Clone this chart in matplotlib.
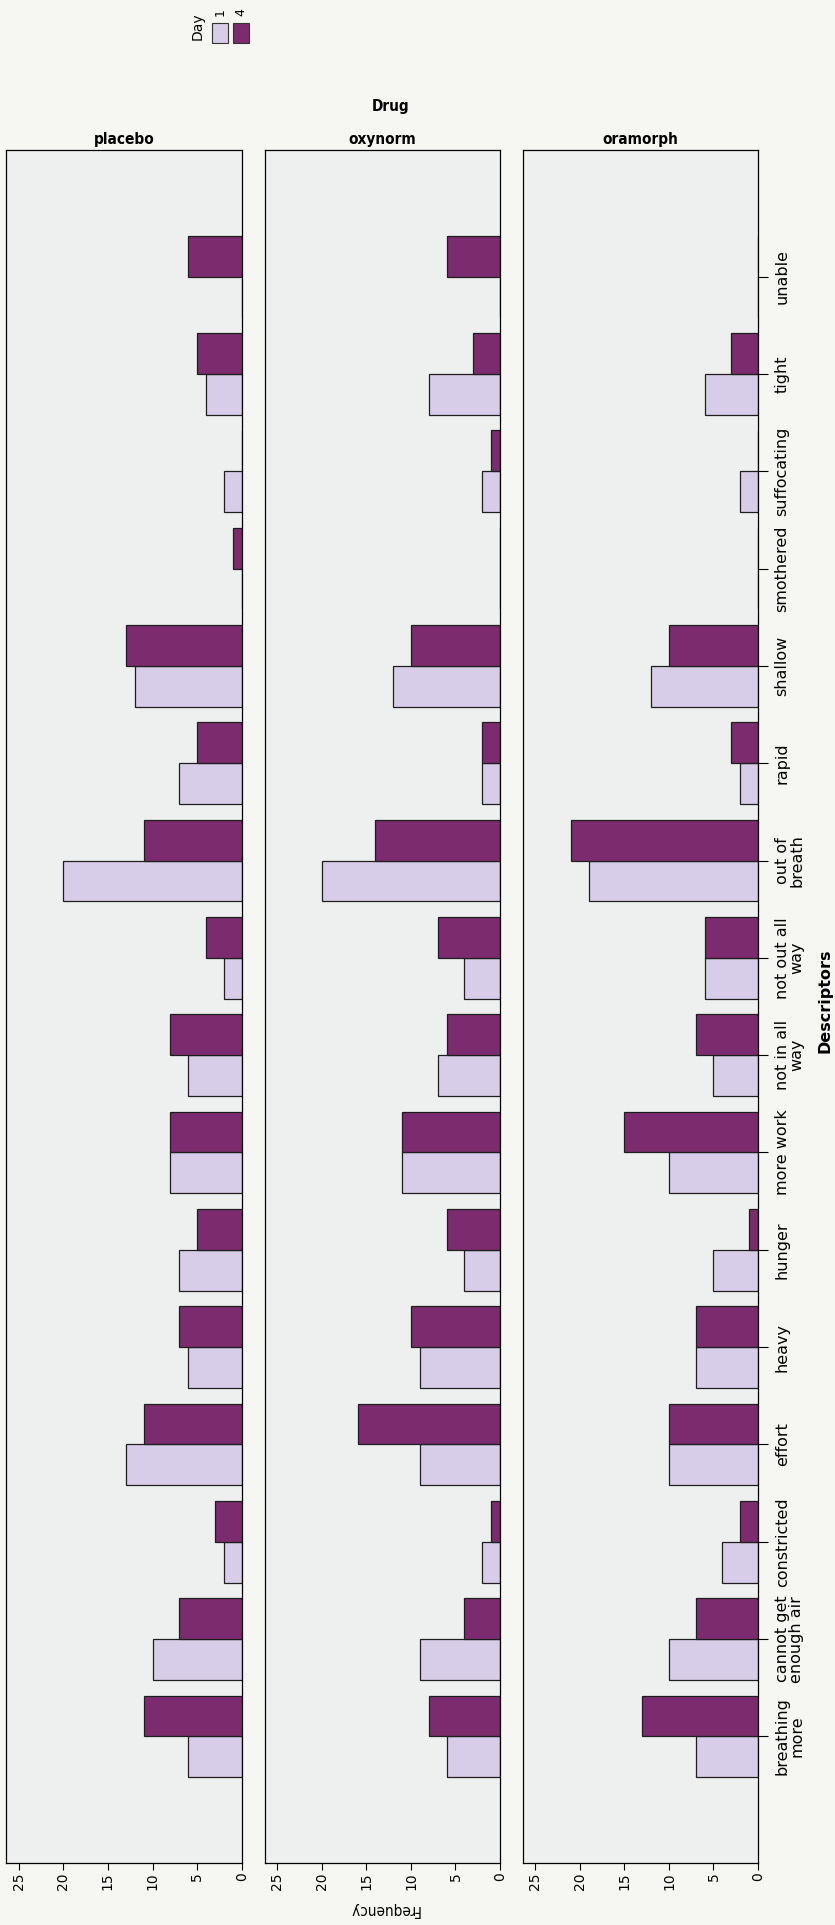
import matplotlib
matplotlib.use('Agg')
import matplotlib.pyplot as plt
import numpy as np
from matplotlib.patches import Rectangle

DESCRIPTORS = ["breathing\nmore", "cannot get\nenough air", "constricted", "effort",
               "heavy", "hunger", "more work", "not in all\nway", "not out all\nway",
               "out of\nbreath", "rapid", "shallow", "smothered", "suffocating",
               "tight", "unable"]
DRUGS = ["placebo", "oxynorm", "oramorph"]
DAYS = ["1", "4"]

placebo_day1 = [6, 10, 2, 13, 6, 7, 8, 6, 2, 20, 7, 12, 0, 2, 4, 0]
placebo_day4 = [11, 7, 3, 11, 7, 5, 8, 8, 4, 11, 5, 13, 1, 0, 5, 6]
oxynorm_day1 = [6, 9, 2, 9, 9, 4, 11, 7, 4, 20, 2, 12, 0, 2, 8, 0]
oxynorm_day4 = [8, 4, 1, 16, 10, 6, 11, 6, 7, 14, 2, 10, 0, 1, 3, 6]
oramorph_day1 = [7, 10, 4, 10, 7, 5, 10, 5, 6, 19, 2, 12, 0, 2, 6, 0]
oramorph_day4 = [13, 7, 2, 10, 7, 1, 15, 7, 6, 21, 3, 10, 0, 0, 3, 0]

FREQ_TICKS = [0, 5, 10, 15, 20, 25]

# ---- style ----
W, H = 835, 1925
PAGE = '#f6f6f3'
PANEL = '#eef0ef'
LIGHT = '#d8cde8'
DARK = '#7b2b6e'
BAR_H = 0.42

plt.rcParams['font.family'] = 'DejaVu Sans'
plt.rcParams['axes.linewidth'] = 0.9

fig = plt.figure(figsize=(W / 100, H / 100), dpi=100, facecolor=PAGE)

def px_axes(x0, x1, y_top, y_bot):
    return fig.add_axes([x0 / W, 1 - y_bot / H, (x1 - x0) / W, (y_bot - y_top) / H])

series = {
    "placebo": (placebo_day1, placebo_day4),
    "oxynorm": (oxynorm_day1, oxynorm_day4),
    "oramorph": (oramorph_day1, oramorph_day4),
}
panel_x = [(6, 242), (265, 500), (523, 758)]
y = np.arange(len(DESCRIPTORS))

for k, drug in enumerate(DRUGS):
    x0, x1 = panel_x[k]
    ax = px_axes(x0, x1, 150, 1863)
    ax.set_facecolor(PANEL)
    d1, d4 = series[drug]
    ax.barh(y - BAR_H / 2, d1, height=BAR_H, color=LIGHT, edgecolor='#1e1e1e', lw=0.9)
    ax.barh(y + BAR_H / 2, d4, height=BAR_H, color=DARK, edgecolor='#1e1e1e', lw=0.9)
    ax.set_xlim(26.4, 0)
    ax.set_ylim(-1.3, len(DESCRIPTORS) - 1 + 1.3)
    ax.set_xticks(FREQ_TICKS)
    ax.set_xticklabels([str(t) for t in FREQ_TICKS], rotation=90, fontsize=10)
    ax.tick_params(axis='x', direction='out', length=5, width=0.8, pad=2)
    if k == 2:
        ax.yaxis.tick_right()
        ax.set_yticks(y)
        ax.set_yticklabels(DESCRIPTORS, rotation=90, fontsize=11.5, va='center',
                           ha='left', multialignment='center', linespacing=0.95)
        ax.tick_params(axis='y', direction='out', length=7, width=0.8, pad=5)
    else:
        ax.set_yticks([])
    ax.set_title(drug, fontsize=11, fontweight='bold', fontstretch='condensed', pad=4)

# axis titles
fig.text(391 / W, 1 - 107 / H, "Drug", ha='center', va='center', fontsize=11,
         fontweight='bold', fontstretch='condensed')
fig.text(384 / W, 1 - 1910 / H, "Frequency", ha='center', va='center', fontsize=11,
         rotation=180, fontstretch='condensed')
fig.text(825 / W, 1 - 1001 / H, "Descriptors", ha='center', va='center', fontsize=11.5,
         fontweight='bold', rotation=90)

# legend (rotated, as on the page)
fig.text(198 / W, 1 - 26 / H, "Day", ha='center', va='center', fontsize=10, rotation=90)
for j, (lab, col) in enumerate(zip(DAYS, [LIGHT, DARK])):
    lx = 212 + j * 21
    fig.patches.append(Rectangle((lx / W, 1 - 43 / H), 16 / W, 20 / H,
                                 transform=fig.transFigure, facecolor=col,
                                 edgecolor='#333333', lw=0.8))
    fig.text((lx + 8) / W, 1 - 12 / H, lab, ha='center', va='center',
             fontsize=9, rotation=90)

fig.savefig('out.png', dpi=100, facecolor=PAGE)
